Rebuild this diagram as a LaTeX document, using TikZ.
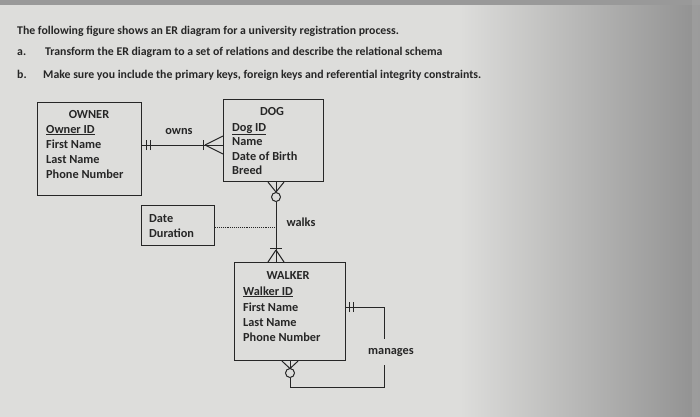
\documentclass[tikz,border=0pt]{standalone}
\usepackage{fontspec}
\setmainfont{Carlito}
\usepackage{xcolor}
\usetikzlibrary{positioning}

\definecolor{screenlight}{HTML}{DDDDDB}
\definecolor{screendark}{HTML}{909090}
\definecolor{inkgray}{HTML}{262626}

\begin{document}
\begin{tikzpicture}[
    x=1pt, y=-1pt,
    entity/.style={
        rectangle, draw=inkgray, line width=1.1pt,
        inner sep=0pt, anchor=north west
    },
    attr/.style={
        anchor=base west, inner sep=0pt,
        font=\fontsize{12.3}{14}\selectfont\bfseries, text=inkgray
    },
    title/.style={
        anchor=base, inner sep=0pt,
        font=\fontsize{12.3}{14}\selectfont\bfseries, text=inkgray
    },
    question/.style={
        anchor=base west, inner sep=0pt,
        font=\fontsize{11.8}{13}\selectfont\bfseries, text=inkgray
    },
    link/.style={draw=inkgray, line width=1pt},
    dotlink/.style={draw=inkgray, line width=0.9pt, densely dotted},
]
\useasboundingbox (0,0) rectangle (700,416);

%% Hintergrund (Bildschirmfoto)
\fill[screenlight] (-2,-2) rectangle (461,418);
\shade[left color=screenlight, right color=screendark] (460,-2) rectangle (702,418);
\fill[gray!80] (-2,-2) rectangle (702,5);
\fill[gray!70, opacity=0.5] (692,-2) rectangle (702,418);

%% Aufgabentext
\node[question] (q0) at (17,34)
    {The following figure shows an ER diagram for a university registration process.};
\node[question] (qa) at (17,55) {a.};
\node[question] (qatext) at (45,55)
    {Transform the ER diagram to a set of relations and describe the relational schema};
\node[question] (qb) at (17,78) {b.};
\node[question] (qbtext) at (43,78)
    {Make sure you include the primary keys, foreign keys and referential integrity constraints.};

%% OWNER
\node[entity, minimum width=104pt, minimum height=93pt] (owner) at (37,102) {};
\node[title] (ownertitle) at (89,118) {OWNER};
\node[attr] (ownerid) at (46,133) {\underline{Owner ID}};
\node[attr] (ownerfirst) at (46,148) {First Name};
\node[attr] (ownerlast) at (46,163) {Last Name};
\node[attr] (ownerphone) at (46,178) {Phone Number};

%% DOG
\node[entity, minimum width=100pt, minimum height=82pt] (dog) at (223,99) {};
\node[title] (dogtitle) at (272,115) {DOG};
\node[attr] (dogid) at (232,131) {\underline{Dog ID}};
\node[attr] (dogname) at (232,145) {Name};
\node[attr] (dogbirth) at (232,160) {Date of Birth};
\node[attr] (dogbreed) at (232,174) {Breed};

%% Date / Duration
\node[entity, minimum width=73pt, minimum height=40pt] (walkattr) at (141,205) {};
\node[attr] (walkdate) at (149,222) {Date};
\node[attr] (walkdur) at (149,237) {Duration};

%% WALKER
\node[entity, minimum width=111pt, minimum height=98pt] (walker) at (234,262) {};
\node[title] (walkertitle) at (288,279) {WALKER};
\node[attr] (walkerid) at (243,295) {\underline{Walker ID}};
\node[attr] (walkerfirst) at (243,311) {First Name};
\node[attr] (walkerlast) at (243,326) {Last Name};
\node[attr] (walkerphone) at (243,341) {Phone Number};

%% Beziehungsnamen
\node[title] (owns) at (179,134) {owns};
\node[title] (walks) at (301,226) {walks};
\node[title, anchor=center, inner sep=9pt] (manages) at (391,352) {manages};

%% owns: OWNER ||----<| DOG
\coordinate (ownsA) at (owner.east |- 0,145);
\coordinate (ownsB) at (dog.west |- 0,145);
\draw[link] (ownsA) -- (ownsB);
\draw[link] ([xshift=4pt,yshift=-5pt]ownsA) -- ([xshift=4pt,yshift=5pt]ownsA);
\draw[link] ([xshift=8pt,yshift=-5pt]ownsA) -- ([xshift=8pt,yshift=5pt]ownsA);
\draw[link] ([xshift=-20pt,yshift=-5pt]ownsB) -- ([xshift=-20pt,yshift=5pt]ownsB);
\draw[link] ([xshift=-18pt]ownsB) -- ([yshift=-9pt]ownsB);
\draw[link] ([xshift=-18pt]ownsB) -- ([yshift=9pt]ownsB);

%% walks: DOG o<----|< WALKER
\coordinate (walksA) at (276,0 |- dog.south);
\coordinate (walksB) at (276,0 |- walker.north);
\coordinate (walksM) at (276,227);
\draw[link] (walksA) -- (276,192);
\draw[link] ([xshift=-8pt]walksA) -- (276,192);
\draw[link] ([xshift=8pt]walksA) -- (276,192);
\draw[link] (276,197) circle[radius=4.5pt];
\draw[link] (276,201.5) -- (walksB);
\draw[link] (270,248) -- (282,248);
\draw[link] (276,250) -- ([xshift=-8pt]walksB);
\draw[link] (276,250) -- ([xshift=8pt]walksB);
\draw[dotlink] (walkattr.east |- walksM) -- (walksM);

%% manages: WALKER ||---- o< WALKER
\coordinate (manA) at (walker.east |- 0,307);
\coordinate (manB) at (290,0 |- walker.south);
\draw[link] (manA) -- (384,307) -- (manages.north -| 384,0);
\draw[link] (manages.south -| 384,0) -- (384,387) -- (290,387) -- (290,377.5);
\draw[link] ([xshift=3pt,yshift=-5pt]manA) -- ([xshift=3pt,yshift=5pt]manA);
\draw[link] ([xshift=7pt,yshift=-5pt]manA) -- ([xshift=7pt,yshift=5pt]manA);
\draw[link] (290,373) circle[radius=4.5pt];
\draw[link] ([xshift=-8pt]manB) -- (290,368.5);
\draw[link] ([xshift=8pt]manB) -- (290,368.5);
\draw[link] (manB) -- (290,368.5);

\end{tikzpicture}
\end{document}
